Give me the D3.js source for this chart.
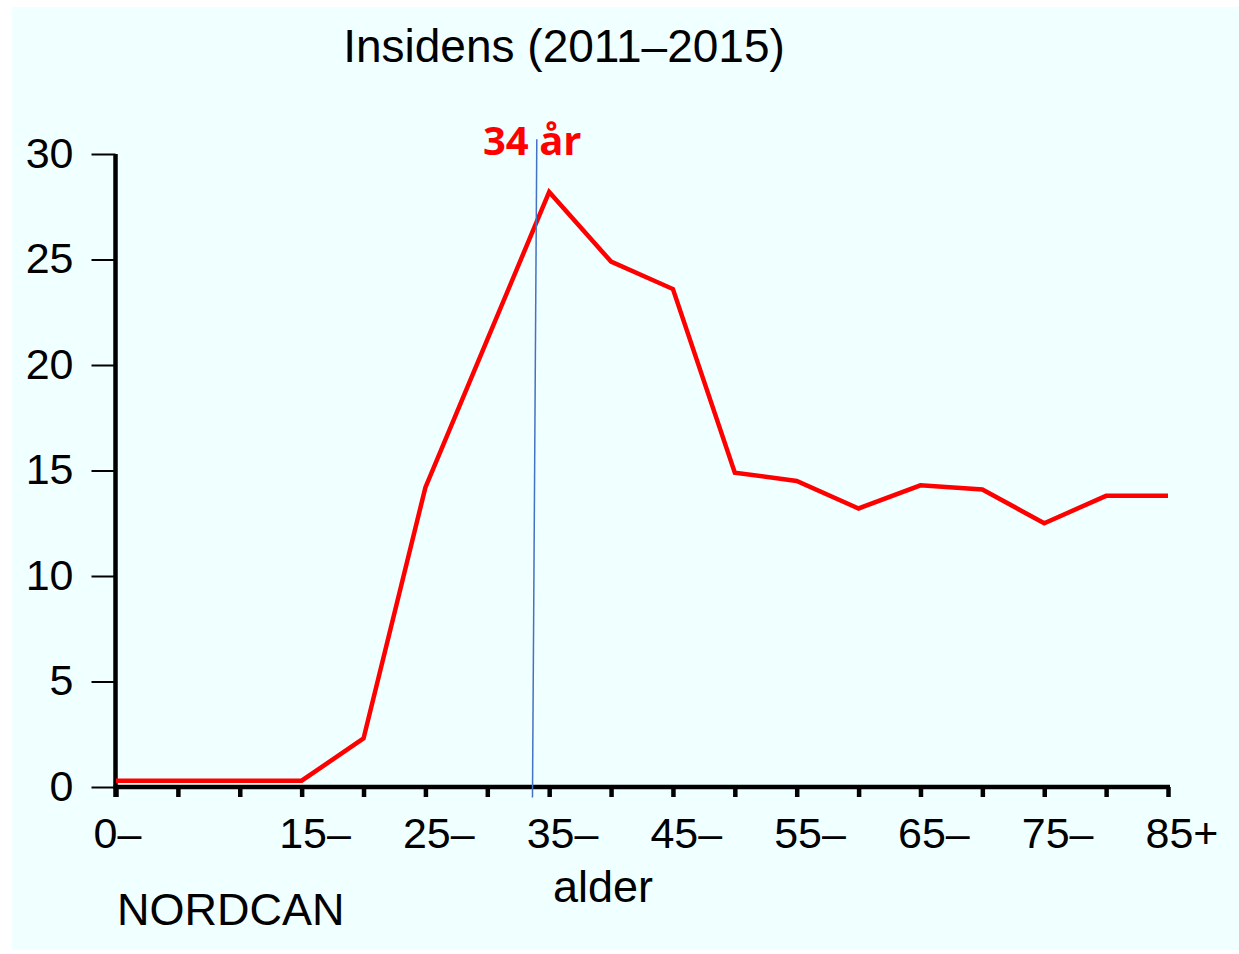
<!DOCTYPE html>
<html lang="no">
<head>
  <meta charset="UTF-8">
  <title>Insidens (2011–2015)</title>
  <script src="https://d3js.org/d3.v7.min.js"></script>
  <style>
    body {
      margin: 0;
      background: #fff;
      font-family: "Liberation Sans", Arial, sans-serif;
    }
    .tick text {
      font-family: "Liberation Sans", Arial, sans-serif;
      font-size: 43px;
      fill: #000;
    }
    .label {
      font-size: 45px;
      fill: #000;
    }
    .title {
      font-size: 46px;
      fill: #000;
    }
    .note {
      font-family: "Open Sans", sans-serif;
      font-weight: bold;
      font-size: 40px;
      fill: #ff0000;
    }
  </style>
</head>
<body>
  <svg width="1239" height="954"></svg>
  <script>
    // age group start (years) and incidence per 100 000
    const ages = [0, 5, 10, 15, 20, 25, 30, 35, 40, 45, 50, 55, 60, 65, 70, 75, 80, 85];
    const incidence = [0.3, 0.3, 0.3, 0.3, 2.3, 14.2, 21.2, 28.2, 24.9, 23.6, 14.9, 14.5, 13.2, 14.3, 14.1, 12.5, 13.8, 13.8];
    const yTicks = [0, 5, 10, 15, 20, 25, 30];
    const xLabelAges = [0, 15, 25, 35, 45, 55, 65, 75, 85];
    const xLabels = ["0–", "15–", "25–", "35–", "45–", "55–", "65–", "75–", "85+"];
    const markerAge = 34;          // median age marker
    const markerAgeBottom = 33.65; // hand-drawn line is a bit slanted

    const svg = d3.select("svg");

    // light cyan panel
    svg.append("rect")
      .attr("x", 12).attr("y", 7)
      .attr("width", 1227).attr("height", 943)
      .attr("fill", "#f0ffff");

    const x = d3.scaleLinear().domain([0, 85]).range([116, 1168]);
    const y = d3.scaleLinear().domain([0, 30]).range([787, 154]);

    // y axis
    const yAxis = svg.append("g")
      .attr("transform", "translate(115.5,0)")
      .call(d3.axisLeft(y).tickValues(yTicks).tickSize(24).tickPadding(18));
    yAxis.select(".domain").remove();
    yAxis.selectAll(".tick line").attr("stroke", "#000").attr("stroke-width", 2);
    yAxis.selectAll(".tick text").attr("dy", 13);
    svg.append("line")
      .attr("x1", 115.5).attr("x2", 115.5)
      .attr("y1", y(30)).attr("y2", 797)
      .attr("stroke", "#000").attr("stroke-width", 4.5);

    // x axis
    const labelOf = new Map(xLabelAges.map((a, i) => [a, xLabels[i]]));
    const xAxis = svg.append("g")
      .attr("transform", "translate(0,787)")
      .call(d3.axisBottom(x).tickValues(ages).tickSize(10).tickFormat(d => labelOf.get(d) || ""));
    xAxis.select(".domain").remove();
    xAxis.selectAll(".tick line").attr("stroke", "#000").attr("stroke-width", 4.5);
    xAxis.selectAll(".tick text")
      .attr("text-anchor", "start")
      .attr("x", -23)
      .attr("y", 61)
      .attr("dy", 0);
    svg.append("line")
      .attr("x1", 113.5).attr("x2", x(85) + 2)
      .attr("y1", 787).attr("y2", 787)
      .attr("stroke", "#000").attr("stroke-width", 4.5);

    // incidence line
    const line = d3.line()
      .x((d, i) => x(ages[i]))
      .y(d => y(d));
    svg.append("path")
      .datum(incidence)
      .attr("d", line)
      .attr("fill", "none")
      .attr("stroke", "#ff0000")
      .attr("stroke-width", 4.5)
      .attr("stroke-linejoin", "miter");

    // median age marker
    svg.append("line")
      .attr("x1", x(markerAge)).attr("y1", y(30.7))
      .attr("x2", x(markerAgeBottom)).attr("y2", y(-0.5))
      .attr("stroke", "#4472c4").attr("stroke-width", 1.5);
    svg.append("text")
      .attr("class", "note")
      .attr("x", 483).attr("y", 155)
      .text(markerAge + " år");

    // titles
    svg.append("text")
      .attr("class", "title")
      .attr("x", 564).attr("y", 62)
      .attr("text-anchor", "middle")
      .text("Insidens (2011–2015)");
    svg.append("text")
      .attr("class", "label")
      .attr("x", 553).attr("y", 902)
      .text("alder");
    svg.append("text")
      .attr("class", "label")
      .attr("x", 117).attr("y", 925)
      .text("NORDCAN");
  </script>
</body>
</html>
